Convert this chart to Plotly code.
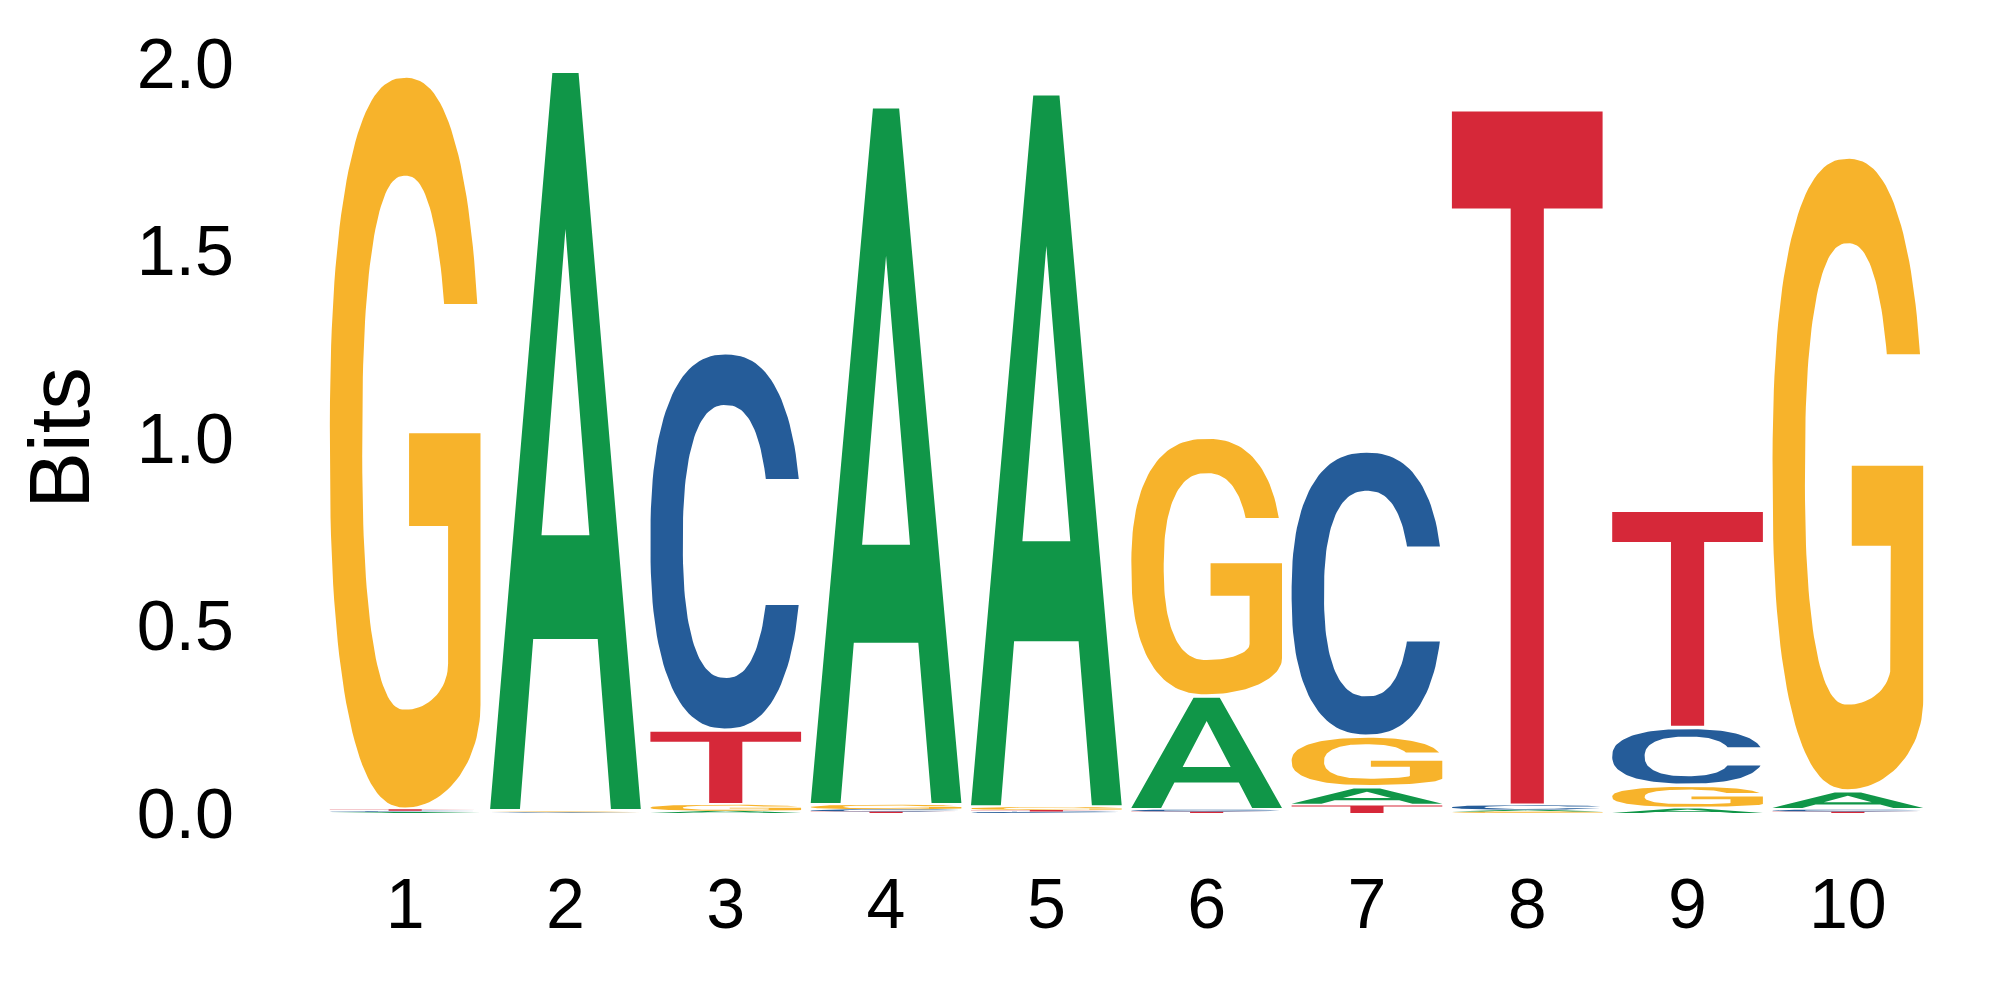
#sequence logo of a 10 position motif, letters drawn as stretched glyph polygons

import numpy as np
import plotly.graph_objects as go

positions = list(range(1, 11))
tick_labels = [str(p) for p in positions]
y_ticks = [0.0, 0.5, 1.0, 1.5, 2.0]

#information content (bits) of each letter at each position
bits_A = [0.003, 1.972, 0.006, 1.861, 1.902, 0.303, 0.050, 0.005, 0.012, 0.050]
bits_C = [0.003, 0.002, 1.006, 0.006, 0.004, 0.005, 0.760, 0.012, 0.154, 0.005]
bits_G = [1.955, 0.002, 0.016, 0.012, 0.008, 0.690, 0.135, 0.004, 0.062, 1.690]
bits_T = [0.004, 0.002, 0.199, 0.004, 0.004, 0.004, 0.020, 1.854, 0.579, 0.004]

colors = {'A': '#109648', 'C': '#255C99', 'G': '#F7B32B', 'T': '#D62839'}
FONT = "Liberation Sans, Arial, Helvetica, sans-serif"

#glyph outlines in a unit box, superellipse for the round letters
N_SE = 2.4


def se(t, cx, cy, rx, ry):
    c, s = np.cos(t), np.sin(t)
    return (cx + rx * np.sign(c) * np.abs(c) ** (2 / N_SE),
            cy + ry * np.sign(s) * np.abs(s) ** (2 / N_SE))


def se_angle(y, cy, ry):
    v = (y - cy) / ry
    return np.arcsin(np.sign(v) * np.abs(v) ** (N_SE / 2))


def glyph_C():
    t1 = se_angle(0.667, 0.5, 0.5)
    t2 = 2 * np.pi + se_angle(0.33, 0.5, 0.5)
    ox, oy = se(np.linspace(t1, t2, 120), 0.5, 0.5, 0.5, 0.5)
    i1 = se_angle(0.667, 0.5, 0.365)
    i2 = 2 * np.pi + se_angle(0.33, 0.5, 0.365)
    ix, iy = se(np.linspace(i2, i1, 120), 0.5, 0.5, 0.285, 0.365)
    return [list(ox) + list(ix)], [list(oy) + list(iy)]


def glyph_G():
    t1 = se_angle(0.69, 0.5, 0.5)
    ox, oy = se(np.linspace(t1, 1.5 * np.pi, 100), 0.5, 0.5, 0.5, 0.5)
    a = np.linspace(-np.pi / 2, 0, 30)
    bx = 0.5 + 0.5 * np.cos(a)
    by = 0.141 + 0.141 * np.sin(a)
    bar_x = [1.0, 0.526, 0.526, 0.785]
    bar_y = [0.513, 0.513, 0.386, 0.386]
    a2 = np.linspace(0, -np.pi / 2, 20)
    cx_ = 0.5 + 0.285 * np.cos(a2)
    cy_ = 0.197 + 0.063 * np.sin(a2)
    i1 = se_angle(0.69, 0.5, 0.366)
    ix, iy = se(np.linspace(1.5 * np.pi, i1, 100), 0.5, 0.5, 0.285, 0.366)
    xs = list(ox) + list(bx) + bar_x + list(cx_) + list(ix)
    ys = list(oy) + list(by) + bar_y + list(cy_) + list(iy)
    return [xs], [ys]


def glyph_A():
    outer_x = [0, 0.413, 0.587, 1, 0.802, 0.714, 0.286, 0.198]
    outer_y = [0, 1, 1, 0, 0, 0.231, 0.231, 0]
    hole_x = [0.341, 0.659, 0.5]
    hole_y = [0.372, 0.372, 0.788]
    return [outer_x, hole_x], [outer_y, hole_y]


def glyph_T():
    xs = [0, 1, 1, 0.61, 0.61, 0.39, 0.39, 0]
    ys = [1, 1, 0.86, 0.86, 0, 0, 0.86, 0.86]
    return [xs], [ys]


glyphs = {'A': glyph_A(), 'C': glyph_C(), 'G': glyph_G(), 'T': glyph_T()}
heights = {'A': bits_A, 'C': bits_C, 'G': bits_G, 'T': bits_T}

WIDTH = 0.94
PAD = 0.0045

fig = go.Figure()
for i, pos in enumerate(positions):
#stack smallest letter at the bottom
    stack = sorted(['A', 'C', 'G', 'T'], key=lambda l: heights[l][i])
    base = 0.0
    for l in stack:
        h = heights[l][i]
        y0, y1 = base, base + h
        if h > 0.02:
            y0, y1 = y0 + PAD, y1 - PAD
        gx, gy = glyphs[l]
        xs, ys = [], []
        for px, py in zip(gx, gy):
            xs += [pos - WIDTH / 2 + WIDTH * u for u in px] + [None]
            ys += [y0 + (y1 - y0) * v for v in py] + [None]
        fig.add_trace(go.Scatter(x=xs, y=ys, mode='lines', fill='toself',
                                 fillcolor=colors[l], line=dict(width=0),
                                 hoverinfo='skip', showlegend=False))
        base += h

fig.update_layout(width=2000, height=1000, paper_bgcolor='white', plot_bgcolor='white',
                  margin=dict(l=317, r=80, t=55, b=195), font=dict(family=FONT, color='black'))
fig.update_xaxes(range=[0.5, 10.5], tickvals=positions, ticktext=tick_labels,
                 showgrid=False, zeroline=False, showline=False, ticks='',
                 tickfont=dict(size=70), ticklabelstandoff=44)
fig.update_yaxes(range=[0, 2.0], tickvals=y_ticks, tickformat='.1f',
                 showgrid=False, zeroline=False, showline=False, ticks='',
                 tickfont=dict(size=70), ticklabelstandoff=90,
                 title=dict(text='Bits', font=dict(size=85), standoff=18))

fig.write_html("out.html")
